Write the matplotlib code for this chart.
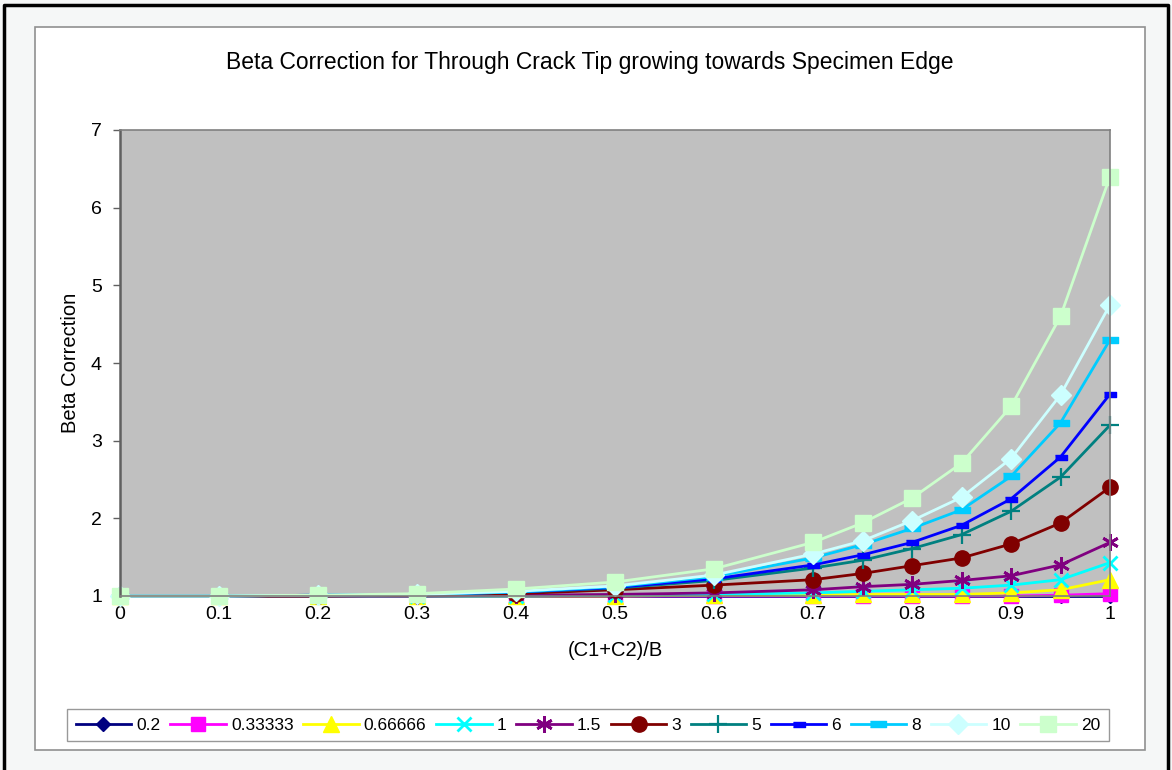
import matplotlib.pyplot as plt
from matplotlib.patches import Rectangle
from matplotlib.lines import Line2D

plt.rcParams['font.family'] = ['Liberation Sans', 'DejaVu Sans']

# crack length ratio (C1+C2)/B
x = [0, 0.1, 0.2, 0.3, 0.4, 0.5, 0.6, 0.7, 0.75, 0.8, 0.85, 0.9, 0.95, 1.0]

# beta correction for each ratio
beta_02 = [1.0, 1.0, 1.0, 1.0, 1.0, 1.0, 1.0, 1.0, 1.0, 1.0, 1.0, 1.0, 1.0, 1.0]
beta_033 = [1.0, 1.0, 1.0, 1.0, 1.0, 1.0, 1.0, 1.0, 1.0, 1.0, 1.0, 1.0, 1.01, 1.03]
beta_066 = [1.0, 1.0, 1.0, 1.0, 1.0, 1.0, 1.01, 1.01, 1.02, 1.02, 1.02, 1.04, 1.08, 1.21]
beta_1 = [1.0, 1.0, 1.0, 1.0, 1.0, 1.01, 1.02, 1.04, 1.06, 1.08, 1.10, 1.14, 1.21, 1.43]
beta_15 = [1.0, 1.0, 1.0, 1.0, 1.01, 1.02, 1.04, 1.08, 1.12, 1.15, 1.20, 1.26, 1.40, 1.69]
beta_3 = [1.0, 1.0, 1.0, 1.01, 1.03, 1.08, 1.14, 1.21, 1.29, 1.39, 1.49, 1.67, 1.94, 2.40]
beta_5 = [1.0, 1.0, 1.01, 1.02, 1.05, 1.10, 1.20, 1.36, 1.46, 1.61, 1.79, 2.09, 2.53, 3.20]
beta_6 = [1.0, 1.0, 1.01, 1.02, 1.05, 1.11, 1.22, 1.40, 1.53, 1.69, 1.91, 2.25, 2.79, 3.60]
beta_8 = [1.0, 1.0, 1.01, 1.02, 1.05, 1.12, 1.25, 1.49, 1.66, 1.87, 2.11, 2.54, 3.23, 4.30]
beta_10 = [1.0, 1.0, 1.01, 1.02, 1.06, 1.13, 1.27, 1.54, 1.71, 1.97, 2.27, 2.77, 3.59, 4.75]
beta_20 = [1.0, 1.0, 1.01, 1.03, 1.09, 1.18, 1.35, 1.69, 1.94, 2.26, 2.71, 3.44, 4.60, 6.40]

labels = ['0.2', '0.33333', '0.66666', '1', '1.5', '3', '5', '6', '8', '10', '20']
series = [beta_02, beta_033, beta_066, beta_1, beta_15, beta_3,
          beta_5, beta_6, beta_8, beta_10, beta_20]

dash_short = [(-1, -0.45), (1, -0.45), (1, 0.45), (-1, 0.45)]
asterisk = (6, 2, 0)
styles = [
    dict(color='#000080', marker='D', ms=7),
    dict(color='#FF00FF', marker='s', ms=10),
    dict(color='#FFFF00', marker='^', ms=11),
    dict(color='#00FFFF', marker='x', ms=10, mew=2),
    dict(color='#800080', marker=asterisk, ms=12, mew=2),
    dict(color='#800000', marker='o', ms=11),
    dict(color='#008080', marker='+', ms=13, mew=1.6),
    dict(color='#0000FF', marker=dash_short, ms=8),
    dict(color='#00CCFF', marker=dash_short, ms=11),
    dict(color='#CCFFFF', marker='D', ms=10),
    dict(color='#CCFFCC', marker='s', ms=11),
]

W, H = 1172, 770
fig = plt.figure(figsize=(W / 100, H / 100), dpi=100)
fig.patch.set_facecolor('#f5f7f7')

# chart area frame and outer border
fig.add_artist(Rectangle((35 / W, 1 - 750 / H), 1110 / W, 723 / H,
                         transform=fig.transFigure, facecolor='white',
                         edgecolor='#909090', lw=1.2, zorder=-10))
fig.add_artist(Line2D([4 / W, 4 / W, 1168 / W, 1168 / W],
                      [0, 1 - 5 / H, 1 - 5 / H, 0],
                      transform=fig.transFigure, color='black', lw=2.5,
                      zorder=-9))

ax = fig.add_axes([120 / W, 1 - 596 / H, 990 / W, 466 / H])
ax.set_zorder(1)
ax.set_facecolor('#C0C0C0')

for vals, lab, st in zip(series, labels, styles):
    ax.plot(x, vals, label=lab, lw=2, clip_on=False, mec=st['color'],
            **st)

ax.set_xlim(0, 1)
ax.set_ylim(1, 7)
ax.set_xticks([i / 10 for i in range(11)])
ax.set_xticklabels(['0', '0.1', '0.2', '0.3', '0.4', '0.5', '0.6', '0.7',
                    '0.8', '0.9', '1'])
ax.set_yticks(range(1, 8))
ax.tick_params(axis='y', direction='out', length=5, width=1, color='#606060',
               labelsize=14, pad=8)
ax.tick_params(axis='x', length=0, labelsize=14, pad=7)
for s in ax.spines.values():
    s.set_color('#808080')
    s.set_linewidth(1.2)
ax.spines['left'].set_color('#606060')
ax.spines['left'].set_linewidth(1.8)

ax.set_xlabel('(C1+C2)/B', fontsize=14.5, labelpad=13)
ax.set_ylabel('Beta Correction', fontsize=14.5, labelpad=8)
fig.text(590 / W, 1 - 62 / H,
         'Beta Correction for Through Crack Tip growing towards Specimen Edge',
         ha='center', va='center', fontsize=16.5)

leg = fig.legend(loc='center', bbox_to_anchor=(588 / W, 1 - 725 / H), ncol=11,
                 fontsize=12.5, frameon=True, fancybox=False,
                 edgecolor='#808080', handlelength=3.2, handletextpad=0.3,
                 columnspacing=0.55, borderpad=0.5, borderaxespad=0)
leg.set_zorder(2)

fig.savefig('out.png', dpi=100, facecolor=fig.get_facecolor())
